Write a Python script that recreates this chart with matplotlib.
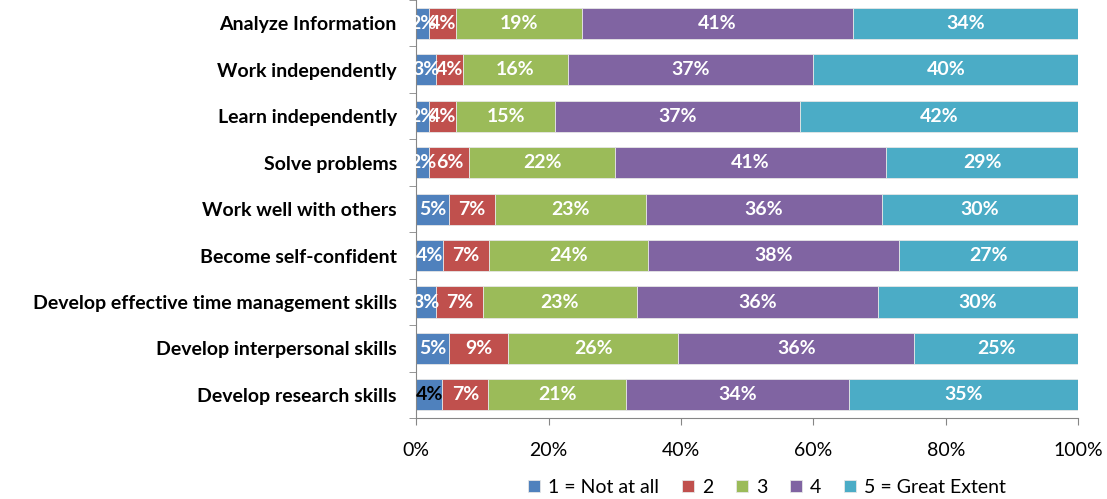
import matplotlib.pyplot as plt
import numpy as np

plt.rcParams['font.family'] = ['Lato', 'DejaVu Sans']

categories = ['Analyze Information', 'Work independently', 'Learn independently',
              'Solve problems', 'Work well with others', 'Become self-confident',
              'Develop effective time management skills', 'Develop interpersonal skills',
              'Develop research skills']
not_at_all = [2, 3, 2, 2, 5, 4, 3, 5, 4]
two = [4, 4, 4, 6, 7, 7, 7, 9, 7]
three = [19, 16, 15, 22, 23, 24, 23, 26, 21]
four = [41, 37, 37, 41, 36, 38, 36, 36, 34]
great = [34, 40, 42, 29, 30, 27, 30, 25, 35]

series = [not_at_all, two, three, four, great]
names = ['1 = Not at all', '2', '3', '4', '5 = Great Extent']
colors = ['#4F81BD', '#C0504D', '#9BBB59', '#8064A2', '#4BACC6']

data = np.array(series, dtype=float)
share = data / data.sum(axis=0) * 100

fig = plt.figure(figsize=(11.07, 4.99), dpi=100)
ax = fig.add_axes([0.376, 0.162, 0.598, 0.838])

y = np.arange(len(categories))
left = np.zeros(len(categories))
for k in range(len(series)):
    ax.barh(y, share[k], left=left, height=0.67, color=colors[k],
            edgecolor='#e6e6e6', linewidth=0.6, label=names[k])
    for i in range(len(categories)):
        cx = left[i] + share[k][i] / 2
        col = 'white'
        if k == 0 and i == len(categories) - 1:
            col = 'black'
        ax.text(cx, y[i], '%d%%' % data[k][i], ha='center', va='center',
                color=col, fontsize=14, fontweight='bold')
    left += share[k]

ax.set_xlim(0, 100)
ax.set_ylim(len(categories) - 0.5, -0.5)
ax.set_xticks([0, 20, 40, 60, 80, 100])
ax.set_xticklabels(['0%', '20%', '40%', '60%', '80%', '100%'], fontsize=14)
ax.set_yticks(y)
ax.set_yticklabels(categories, fontsize=14, fontweight='bold')
ax.set_yticks(np.arange(-0.5, len(categories)), minor=True)
ax.tick_params(axis='y', which='major', length=0, pad=14)
ax.tick_params(axis='y', which='minor', length=5, color='#868686')
ax.tick_params(axis='x', length=5, color='#868686', pad=12)
for s in ['top', 'right']:
    ax.spines[s].set_visible(False)
ax.spines['left'].set_color('#868686')
ax.spines['bottom'].set_color('#868686')

ax.legend(loc='center', bbox_to_anchor=(0.53, -0.165), ncol=5, frameon=False,
          fontsize=14, handlelength=0.6, handleheight=0.6, handletextpad=0.4,
          columnspacing=1.2)

plt.savefig('out.png')
